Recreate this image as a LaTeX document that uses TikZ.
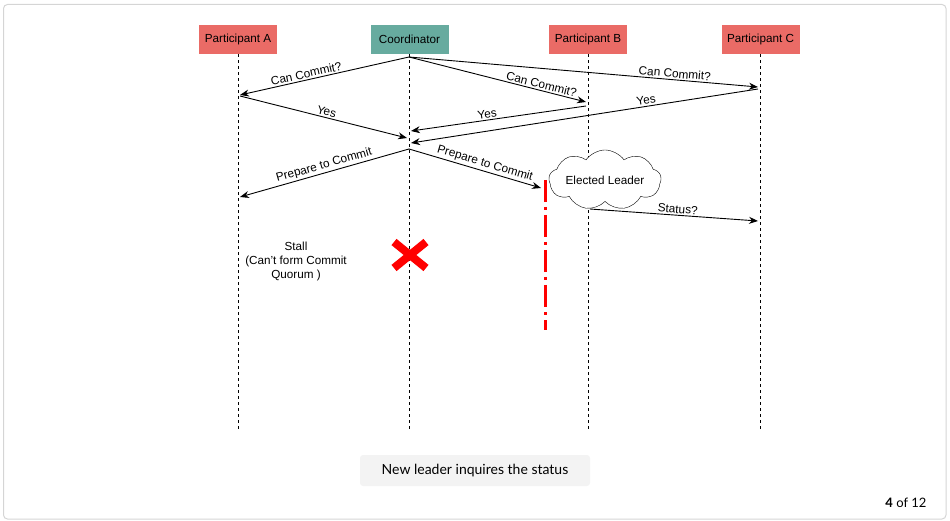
\documentclass[tikz,border=0pt]{standalone}
\usepackage{fontspec}
\setmainfont{Liberation Sans}
\newfontfamily\captionfont{Lato}
\usetikzlibrary{arrows.meta,shapes.symbols}
\definecolor{partred}{HTML}{EA6B66}
\definecolor{coordgreen}{HTML}{67AB9F}
\definecolor{framegray}{HTML}{D5D5D5}
\definecolor{capgray}{HTML}{F3F3F3}
\tikzset{
	actor/.style={fill=partred, minimum width=78pt, minimum height=29pt, inner sep=0pt, font=\fontsize{11.7}{14}\selectfont},
	lifeline/.style={dash pattern=on 3pt off 3pt, line width=0.8pt},
	msg/.style={-{Stealth[length=9pt,width=7pt]}, line width=0.9pt},
	lbl/.style={sloped, above, font=\fontsize{11.8}{14}\selectfont, inner sep=1.5pt},
}
\begin{document}
\begin{tikzpicture}[x=1pt,y=-1pt]
		\useasboundingbox (0,0) rectangle (950,521);
		\draw[framegray, rounded corners=4pt, line width=1pt] (3.5,4.5) rectangle (946,519);
		\node[actor] (pa) at (238,39.5) {Participant A};
		\node[actor, fill=coordgreen] (co) at (409.5,39.5) {Coordinator};
		\node[actor] (pb) at (588,39.5) {Participant B};
		\node[actor] (pc) at (760.5,39.5) {Participant C};
		\coordinate (bottom) at (0,430);
		\foreach \p in {pa,co,pb,pc}
			\draw[lifeline] (\p.south) -- (\p.south |- bottom);
		\coordinate (co1) at (409,57);
		\coordinate (pa1) at (240,95);
		\coordinate (pb1) at (586,102);
		\coordinate (pc1) at (758,87);
		\coordinate (pa2) at (240,96);
		\coordinate (co2) at (407,138);
		\coordinate (pb2) at (586,106);
		\coordinate (co3) at (411,131);
		\coordinate (pc2) at (758,89);
		\coordinate (co4) at (411,143);
		\coordinate (co5) at (409,149);
		\coordinate (pa3) at (240,197);
		\coordinate (stop) at (541,188);
		\coordinate (pb3) at (590,209);
		\coordinate (pc3) at (758,221);
		\draw[msg] (co1) -- node[lbl, pos=0.6] {Can Commit?} (pa1);
		\draw[msg] (co1) -- node[lbl, pos=0.74] {Can Commit?} (pb1);
		\draw[msg] (co1) -- node[lbl, pos=0.76] {Can Commit?} (pc1);
		\draw[msg] (pa2) -- node[lbl, pos=0.51] {Yes} (co2);
		\draw[msg] (pb2) -- node[lbl, pos=0.56] {Yes} (co3);
		\draw[msg] (pc2) -- node[lbl, pos=0.32] {Yes} (co4);
		\draw[msg] (co5) -- node[lbl, pos=0.49] {Prepare to Commit} (pa3);
		\draw[msg] (co5) -- node[lbl, pos=0.56] {Prepare to Commit} (stop);
		\draw[msg] (pb3) -- node[lbl, pos=0.52] {Status?} (pc3);
		\node[cloud, draw, fill=white, cloud puffs=9, cloud puff arc=110, aspect=2.6, minimum width=112pt, minimum height=42pt, inner sep=0pt, font=\fontsize{11.7}{14}\selectfont] (leader) at (605,180) {Elected Leader};
		\draw[red, line width=3pt, dash pattern=on 22pt off 5pt on 3pt off 5pt] (545,180) -- (545,330);
		\draw[red, line width=8pt] (394,242) -- (426,268);
		\draw[red, line width=8pt] (426,242) -- (394,268);
		\node[align=center, font=\fontsize{11.7}{14}\selectfont] (stall) at (296,261) {Stall\\(Can't form Commit\\Quorum )};
		\node[fill=capgray, rounded corners=3pt, minimum width=230pt, minimum height=31pt, font=\captionfont\fontsize{14}{17}\selectfont] (caption) at (475,470.5) {New leader inquires the status};
		\node[anchor=east, font=\captionfont\fontsize{13}{15}\selectfont] (pagenum) at (930,503) {\textbf{4} of 12};
	\end{tikzpicture}
\end{document}
